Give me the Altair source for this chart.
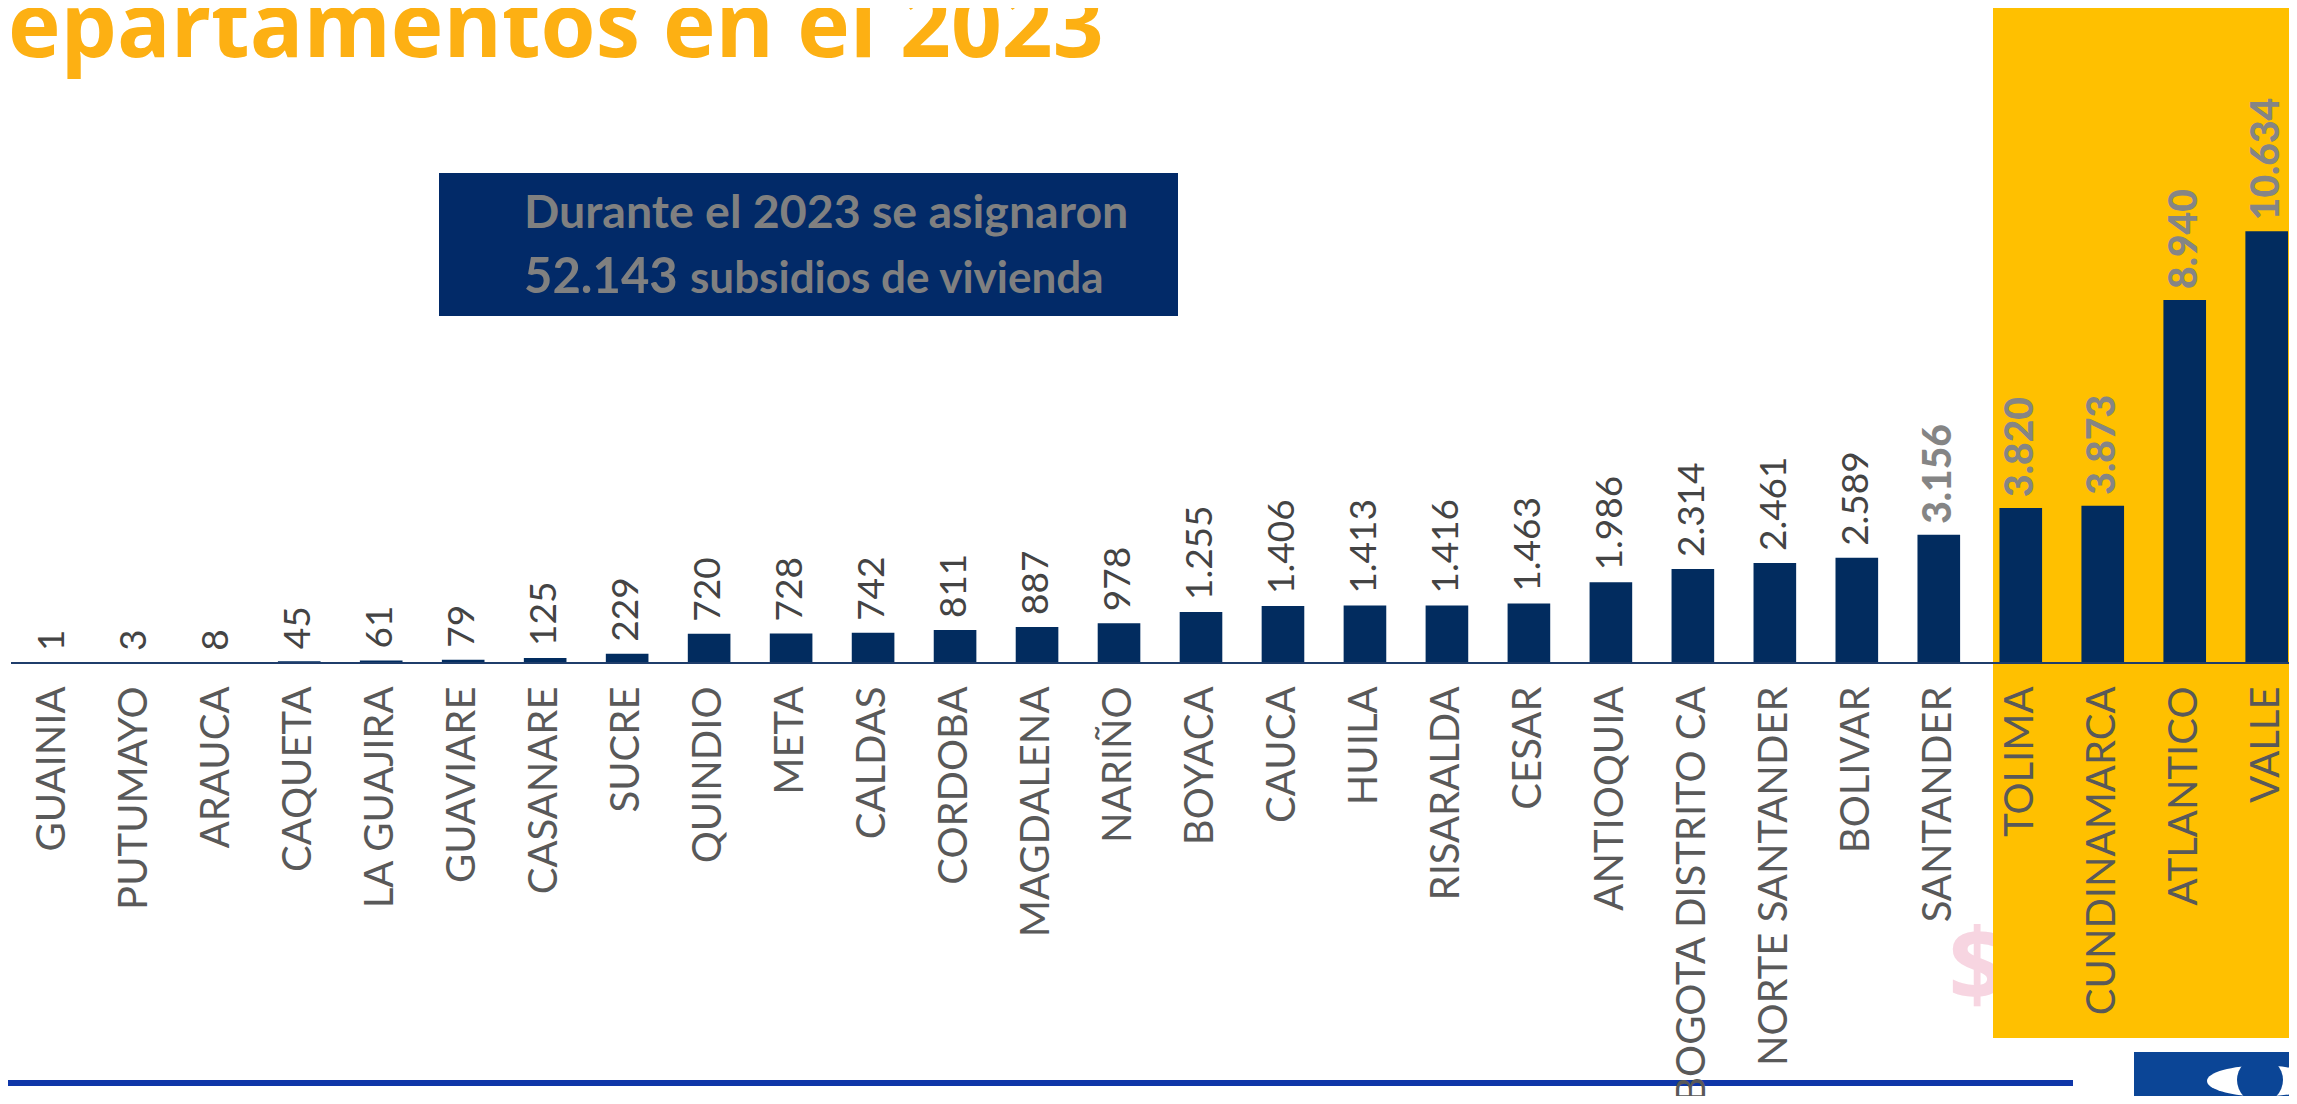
import altair as alt
import pandas as pd

# ---------------- data ----------------
departamentos = ["GUAINIA", "PUTUMAYO", "ARAUCA", "CAQUETA", "LA GUAJIRA", "GUAVIARE",
                 "CASANARE", "SUCRE", "QUINDIO", "META", "CALDAS", "CORDOBA", "MAGDALENA",
                 "NARIÑO", "BOYACA", "CAUCA", "HUILA", "RISARALDA", "CESAR", "ANTIOQUIA",
                 "BOGOTA DISTRITO CA", "NORTE SANTANDER", "BOLIVAR", "SANTANDER", "TOLIMA",
                 "CUNDINAMARCA", "ATLANTICO", "VALLE"]
subsidios = [1, 3, 8, 45, 61, 79, 125, 229, 720, 728, 742, 811, 887, 978, 1255, 1406,
             1413, 1416, 1463, 1986, 2314, 2461, 2589, 3156, 3820, 3873, 8940, 10634]
negrita = ["SANTANDER", "TOLIMA", "CUNDINAMARCA", "ATLANTICO", "VALLE"]

titulo = "epartamentos en el 2023"
texto_linea1 = "Durante el 2023 se asignaron"
texto_linea2 = "subsidios de vivienda"


def miles(v):
    return f"{v:,}".replace(",", ".")


total = miles(sum(subsidios))

df = pd.DataFrame({"dep": departamentos, "n": subsidios})
df["label"] = [miles(v) for v in subsidios]
df["negrita"] = df["dep"].isin(negrita)

one = pd.DataFrame({"k": [0]})

# ---------------- styles / layout (plot coords) ----------------
NAVY = "#022C5F"
YELLOW = "#FFC000"
ORANGE = "#FDB013"
W, H = 2258, 655

X = alt.X("dep:N", sort=departamentos,
          scale=alt.Scale(paddingInner=0.48, paddingOuter=0.012),
          axis=alt.Axis(title=None, labelAngle=270, labelFont="Lato", labelFontSize=40,
                        labelColor="#595959", labelPadding=23, ticks=False, tickSize=0,
                        domain=False, grid=False, labelLimit=1000, labelOverlap=False,
                        labelAlign="right", labelBaseline="middle", zindex=1))
Y = alt.Y("n:Q", scale=alt.Scale(domain=[0, 16130], nice=False, zero=True), axis=None)

dollar = alt.Chart(one).mark_text(text="$", font="Open Sans", fontWeight="bold", fontSize=100,
                                  color="#F7D5E1", align="center", baseline="middle").encode(
    x=alt.value(1946), y=alt.value(963))

highlight = alt.Chart(one).mark_rect(color=YELLOW).encode(
    x=alt.value(1962), x2=alt.value(2300), y=alt.value(-2), y2=alt.value(1030))

box = alt.Chart(one).mark_rect(color="#022A68").encode(
    x=alt.value(408), x2=alt.value(1147), y=alt.value(165), y2=alt.value(308))

box_l1 = alt.Chart(one).mark_text(text=texto_linea1, font="Lato", fontWeight="bold", fontSize=46.5,
                                  color="#808080", align="left", baseline="alphabetic").encode(
    x=alt.value(493), y=alt.value(220))
box_l2a = alt.Chart(one).mark_text(text=total, font="Lato", fontWeight="bold", fontSize=49,
                                   color="#808080", align="left", baseline="alphabetic").encode(
    x=alt.value(493), y=alt.value(285))
box_l2b = alt.Chart(one).mark_text(text=texto_linea2, font="Lato", fontWeight="bold", fontSize=44,
                                   color="#808080", align="left", baseline="alphabetic").encode(
    x=alt.value(659), y=alt.value(285))

title = alt.Chart(one).mark_text(text=titulo, font="Open Sans", fontWeight="bold", fontSize=89,
                                 color=ORANGE, align="left", baseline="alphabetic").encode(
    x=alt.value(-23), y=alt.value(49))

baseline = alt.Chart(one).mark_rule(color="#1F3D6B", strokeWidth=2).encode(
    x=alt.value(-20), x2=alt.value(2300), y=alt.value(H))

bars = alt.Chart(df).mark_bar(color=NAVY).encode(x=X, y=Y)

lab_reg = alt.Chart(df).transform_filter("!datum.negrita").mark_text(
    angle=270, align="left", baseline="middle", dx=12, font="Lato", fontSize=37,
    color="#444444").encode(x=X, y=Y, text="label:N")
lab_bold = alt.Chart(df).transform_filter("datum.negrita").mark_text(
    angle=270, align="left", baseline="middle", dx=11, font="Lato", fontWeight=900,
    fontSize=39, color="#858585").encode(x=X, y=Y, text="label:N")

bottom_line = alt.Chart(one).mark_rule(color="#0F36A8", strokeWidth=6).encode(
    x=alt.value(-31), x2=alt.value(2042), y=alt.value(1075))

logo_bg = alt.Chart(one).mark_rect(color="#0B4596").encode(
    x=alt.value(2103), x2=alt.value(2300), y=alt.value(1044), y2=alt.value(1100))
logo_eye = alt.Chart(one).mark_point(
    shape="M -1 0 A 1 0.28 0 1 0 1 0 A 1 0.28 0 1 0 -1 0 Z", size=12100,
    filled=True, color="white", opacity=1).encode(x=alt.value(2231), y=alt.value(1073))
logo_iris = alt.Chart(one).mark_point(shape="circle", size=2116, filled=True,
                                      color="#0B4596", opacity=1).encode(
    x=alt.value(2229), y=alt.value(1072))

chart = alt.layer(
    dollar, highlight, box, box_l1, box_l2a, box_l2b, title, bars, baseline,
    lab_reg, lab_bold, bottom_line, logo_bg, logo_eye, logo_iris
).properties(
    width=W, height=H,
    autosize=alt.AutoSizeParams(type="none"),
    padding={"left": 23, "top": 0, "right": 0, "bottom": 433},
    background="white",
).configure_view(stroke=None)

chart.save("out.html", embed_options={"renderer": "svg", "actions": False})
